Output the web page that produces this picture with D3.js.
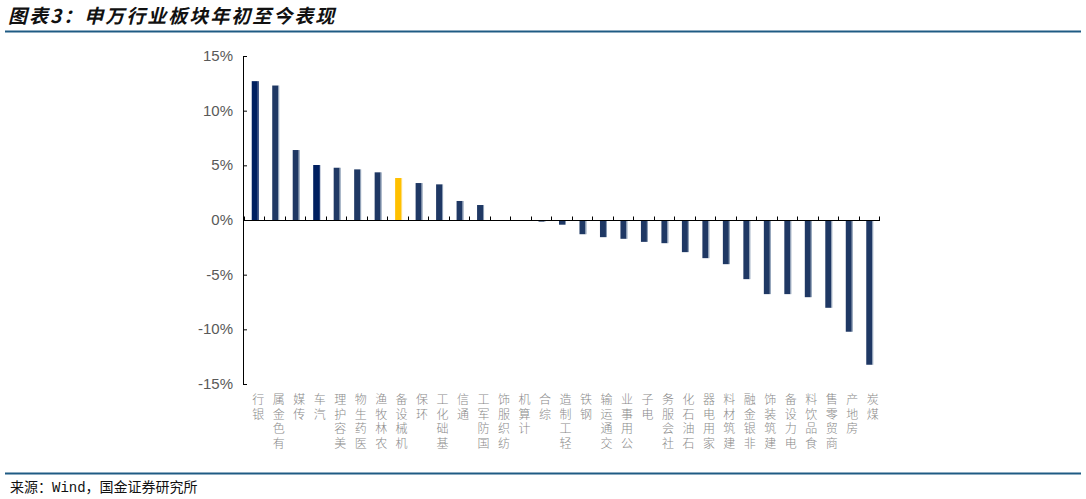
<!DOCTYPE html>
<html><head><meta charset="utf-8">
<script src="https://cdn.jsdelivr.net/npm/d3@7"></script>
<style>body{margin:0;background:#fff}svg{display:block}</style>
</head><body>
<svg id="c" width="1086" height="499"></svg>
<script>
const categories = ["银行","有色金属","传媒","汽车","美容护理","医药生物","农林牧渔","机械设备","环保","基础化工","通信","国防军工","纺织服饰","计算机","综合","轻工制造","钢铁","交通运输","公用事业","电子","社会服务","石油石化","家用电器","建筑材料","非银金融","建筑装饰","电力设备","食品饮料","商贸零售","房地产","煤炭"];
const values = [12.7,12.3,6.4,5.03,4.78,4.63,4.36,3.84,3.38,3.26,1.74,1.37,-0.05,-0.05,-0.15,-0.43,-1.3,-1.57,-1.72,-2.0,-2.12,-2.94,-3.49,-4.04,-5.41,-6.78,-6.78,-7.06,-8.03,-10.22,-13.24];
const yTicks = [-15,-10,-5,0,5,10,15];
const darkCats = ["银行","汽车"];
const highlightCats = ["机械设备"];

const svg = d3.select("#c");
const x = d3.scaleBand().domain(categories).range([244,879]);
const y = d3.scaleLinear().domain([-15,15]).range([384,56]);

// title
svg.append("text").attr("x",8).attr("y",23).text("图表3：申万行业板块年初至今表现")
  .attr("font-family","'Noto Sans CJK SC'").attr("font-size",19).attr("font-weight","bold")
  .attr("font-style","italic").attr("letter-spacing",2).attr("fill","#111");
svg.append("rect").attr("x",5).attr("y",30.5).attr("width",1076).attr("height",2).attr("fill","#1F5B84");
svg.append("rect").attr("x",5).attr("y",472.5).attr("width",1076).attr("height",2).attr("fill","#1F5B84");
svg.append("text").attr("x",10).attr("y",492).text("来源：Wind，国金证券研究所")
  .attr("font-family","'Liberation Mono','Noto Sans CJK SC'").attr("font-size",14).attr("fill","#111");

// bars
const bw = 6;
svg.append("g").selectAll("rect").data(values).join("rect")
  .attr("x",(d,i)=>x(categories[i])+x.bandwidth()/2-bw/2+0.5)
  .attr("width",bw)
  .attr("y",d=>y(Math.max(0,d)))
  .attr("height",d=>Math.abs(y(d)-y(0)))
  .attr("fill",(d,i)=>highlightCats.includes(categories[i])?"#FFC000":(darkCats.includes(categories[i])?"#002060":"#1F3864"));
svg.append("g").selectAll("rect").data(values).join("rect")
  .attr("x",(d,i)=>x(categories[i])+x.bandwidth()/2+bw/2+0.5)
  .attr("width",1)
  .attr("y",d=>y(Math.max(0,d)))
  .attr("height",d=>Math.abs(y(d)-y(0)))
  .attr("fill",(d,i)=>highlightCats.includes(categories[i])?"#FFD966":(darkCats.includes(categories[i])?"#002060":"#8497B0"));

// y axis
const ya = svg.append("g").attr("transform","translate(243,0)")
  .call(d3.axisRight(y).tickValues(yTicks).tickSize(4).tickFormat(""));
ya.select(".domain").attr("stroke","#000").attr("d","M0.5,"+y(15)+"V"+y(-15));
ya.selectAll(".tick line").attr("stroke","#000");
svg.append("g").selectAll("text").data(yTicks).join("text")
  .attr("x",233).attr("y",d=>y(d)+5).attr("text-anchor","end")
  .attr("font-family","'Liberation Sans',Arial").attr("font-size",15).attr("fill","#595959")
  .text(d=>d+"%");

// x axis
const y0 = Math.round(y(0))+0.5;
svg.append("line").attr("x1",243).attr("x2",880).attr("y1",y0).attr("y2",y0).attr("stroke","#000");
const bounds = categories.map(c=>x(c)+x.bandwidth()).concat([x(categories[0])]);
svg.append("g").selectAll("line").data(bounds).join("line")
  .attr("x1",d=>Math.round(d)+0.5).attr("x2",d=>Math.round(d)+0.5)
  .attr("y1",y0).attr("y2",y0-4).attr("stroke","#000");

// vertical category labels (chars upright, read bottom to top)
const lg = svg.append("g").attr("font-family","'Liberation Sans','Noto Sans CJK SC'").attr("font-size",12)
  .attr("font-weight",300).attr("fill","#8A8A8A");
categories.forEach((c,i)=>{
  const chars = Array.from(c).reverse();
  const cx = x(c)+x.bandwidth()/2+4;
  lg.selectAll(null).data(chars).join("text")
    .attr("x",cx).attr("y",(d,k)=>404+k*14.5).attr("text-anchor","middle").text(d=>d);
});
</script>
</body></html>
